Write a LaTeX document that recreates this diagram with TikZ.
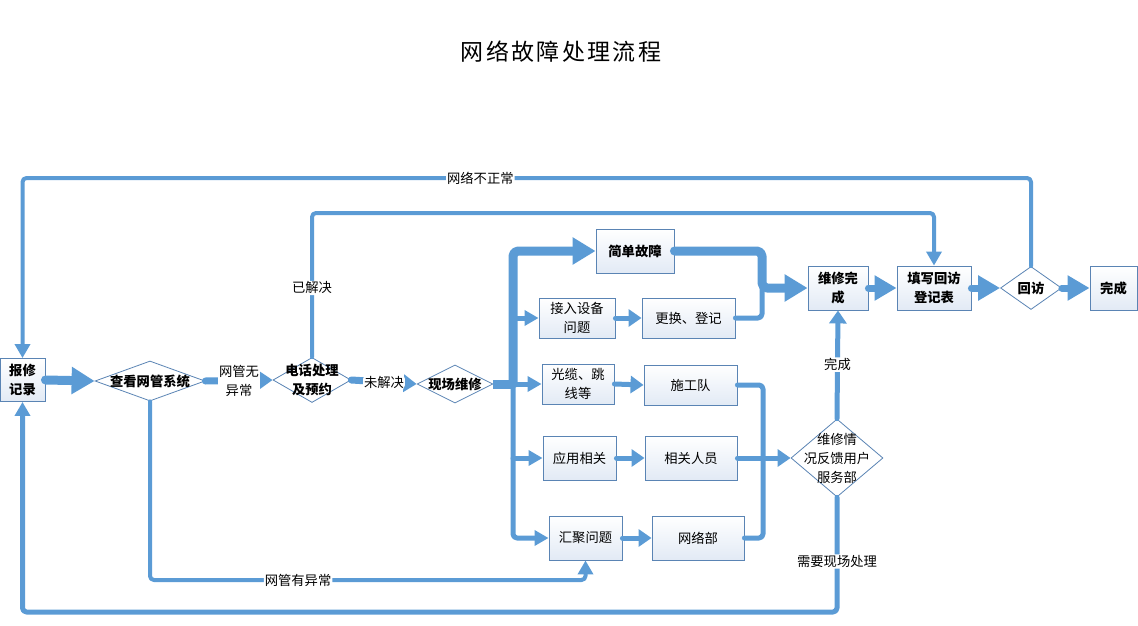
\documentclass[tikz,border=0pt]{standalone}
\usepackage{fontspec}
\setmainfont{Noto Sans CJK SC}
\usetikzlibrary{arrows.meta,shapes.geometric}
\definecolor{lc}{HTML}{5B9BD5}
\definecolor{bc}{HTML}{5A84B4}
\definecolor{bf}{HTML}{E2EAF5}
\tikzset{
  txt/.style={font=\fontsize{13.3}{19}\selectfont},
  btxt/.style={font=\fontsize{13.3}{19}\selectfont\bfseries},
  box/.style={draw=bc, line width=0.9pt, top color=white, bottom color=bf, align=center, inner sep=0pt, txt},
  bbox/.style={box, btxt},
  dia/.style={diamond, draw=bc, line width=0.8pt, fill=white, inner sep=0pt},
  conn/.style={draw=lc, line cap=round, line join=round, rounded corners=4pt},
  cbig/.style={conn, line width=9pt},
  cmid/.style={conn, line width=7pt},
  csm/.style={conn, line width=5pt},
  cthin/.style={conn, line width=4pt},
  ab/.style={-{Triangle[length=23pt,width=26pt]}},
  am/.style={-{Triangle[length=13pt,width=17pt]}},
  as/.style={-{Triangle[length=14pt,width=15pt]}},
  lab/.style={fill=white, inner sep=1pt, align=center, txt},
}
\begin{document}
\begin{tikzpicture}[x=1pt,y=-1pt]
\useasboundingbox (0,0) rectangle (1138,626);
\node[font=\fontsize{23}{26}\selectfont\addfontfeature{LetterSpace=10}] (title) at (561,52) {网络故障处理流程};

% nodes
\node[bbox, minimum width=45, minimum height=43] (bx) at (22.5,380) {报修\\记录};
\node[dia, minimum width=110, minimum height=40, label={[btxt]center:查看网管系统}] (cw) at (150,381) {};
\node[dia, minimum width=78, minimum height=45, label={[btxt,align=center]center:电话处理\\及预约}] (dh) at (312,380) {};
\node[dia, minimum width=76, minimum height=38, label={[btxt]center:现场维修}] (xc) at (455,384) {};
\node[dia, minimum width=61, minimum height=43, label={[btxt]center:回访}] (hf) at (1031,288) {};
\node[dia, minimum width=92, minimum height=78, label={[txt,align=center]center:维修情\\况反馈用户\\服务部}] (fk) at (837,458) {};

\node[bbox, minimum width=78, minimum height=44] (jd) at (635,251) {简单故障};
\node[box, minimum width=76, minimum height=40] (jr) at (577,318) {接入设备\\问题};
\node[box, minimum width=93, minimum height=40] (gh) at (688.5,318) {更换、登记};
\node[box, minimum width=72, minimum height=40] (gl) at (578,384) {光缆、跳\\线等};
\node[box, minimum width=93, minimum height=40] (sg) at (690.5,385) {施工队};
\node[box, minimum width=73, minimum height=44] (yy) at (579.5,458) {应用相关};
\node[box, minimum width=92, minimum height=44] (xr) at (691,458) {相关人员};
\node[box, minimum width=73, minimum height=44] (hj) at (585.5,538) {汇聚问题};
\node[box, minimum width=92, minimum height=44] (wl) at (698,538) {网络部};
\node[bbox, minimum width=60, minimum height=44] (wx) at (838,288) {维修完\\成};
\node[bbox, minimum width=74, minimum height=44] (tx) at (934,288) {填写回访\\登记表};
\node[bbox, minimum width=47, minimum height=44] (wc) at (1113.5,288) {完成};

% coordinates
\coordinate (bm) at (513,384);
\coordinate (b1) at (513,318);
\coordinate (b3) at (513,458);
\coordinate (r1) at (762,288);
\coordinate (rb) at (763,458);
\coordinate (q1) at (837,612);
\coordinate (q2) at (150,580);
\coordinate (q3) at (585.5,580);
\coordinate (q4) at (1031,178);
\coordinate (q5) at (22.5,178);
\coordinate (q6) at (312,213);
\coordinate (q7) at (934,213);

% connectors
\draw[cbig, ab] (bx.east) -- (cw.west);
\draw[cmid, am] (cw.east) -- node[lab]{网管无\\异常} (dh.west);
\draw[cmid, am] (dh.east) -- node[lab]{未解决} (xc.west);
\draw[cbig, line cap=butt] (xc.east) -- (bm);
\draw[csm, as] (bm) |- (hj.west);
\draw[cbig, ab, rounded corners=5pt] (bm) |- (jd.west);
\draw[csm, as] (bm) -- (gl.west);
\draw[csm, as] (b1) -- (jr.west);
\draw[csm, as] (b3) -- (yy.west);
\draw[csm, am] (jr.east) -- (gh.west);
\draw[csm, am] (gl.east) -- (sg.west);
\draw[csm, am] (yy.east) -- (xr.west);
\draw[csm, am] (hj.east) -- (wl.west);
\draw[csm] (gh.east) -| (r1);
\draw[cbig, ab, rounded corners=5pt] (jd.east) -| (r1) -- (wx.west);
\draw[csm] (sg.east) -| (rb) |- (wl.east);
\draw[csm, am] (xr.east) -- (fk.west);
\draw[csm, am] (fk.north) -- node[lab]{完成} (wx.south);
\draw[cmid, -{Triangle[length=22pt,width=24pt]}] (wx.east) -- (tx.west);
\draw[cmid, -{Triangle[length=22pt,width=24pt]}] (tx.east) -- (hf.west);
\draw[cmid, -{Triangle[length=22pt,width=24pt]}] (hf.east) -- (wc.west);
\draw[csm, as] (fk.south) -- node[pos=0.56, lab]{需要现场处理} (q1) -| (bx.south);
\draw[cthin, as] (cw.south) -- (q2) -- node[pos=0.34, lab]{网管有异常} (q3) -- (hj.south);
\draw[cthin, as] (hf.north) -- (q4) -- node[pos=0.546, lab]{网络不正常} (q5) -- (bx.north);
\draw[cthin, as] (dh.north) -- node[pos=0.48, lab]{已解决} (q6) -- (q7) -- (tx.north);
\end{tikzpicture}
\end{document}
